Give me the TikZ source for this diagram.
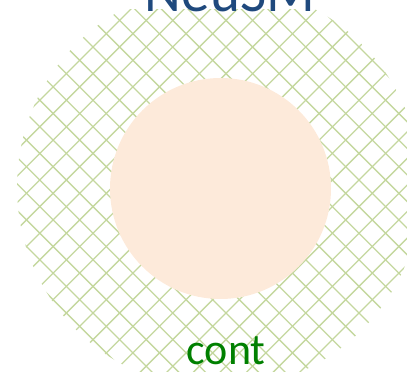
\documentclass[tikz,border=0pt]{standalone}
\usepackage{fontspec}
\setmainfont{Carlito}
\usepackage{xcolor}

\definecolor{hatchgreen}{RGB}{196,215,158}
\definecolor{peach}{RGB}{253,234,218}
\definecolor{titleblue}{RGB}{31,73,125}
\definecolor{labelgreen}{RGB}{0,128,0}

\begin{document}
\begin{tikzpicture}[x=1pt, y=1pt,
    hatch/.style={draw=hatchgreen, line width=1.3pt},
    core/.style={circle, inner sep=0pt, minimum size=221pt, fill=peach},
    caption/.style={anchor=base, inner sep=0pt}]

    \useasboundingbox (0,0) rectangle (407,372);

    % crosshatched outer disc, cut flat under the title
    \begin{scope}
        \clip (0,0) rectangle (407,362);
        \clip (219,185) circle (202);
        \foreach \k in {-24,...,12} {
            \draw[hatch] (137+\k*26.6,-30) -- ++(440,440);
            \draw[hatch] (581+\k*26.6,-30) -- ++(-440,440);
        }
    \end{scope}
    \node[core] (inner) at (220.5,183.5) {};

    \node[caption, text=titleblue, font=\fontsize{57}{60}\selectfont] (title) at (230,360) {NeuSM};
    \node[caption, text=labelgreen, font=\fontsize{44}{48}\selectfont] (cont) at (226,7) {cont};
\end{tikzpicture}
\end{document}
